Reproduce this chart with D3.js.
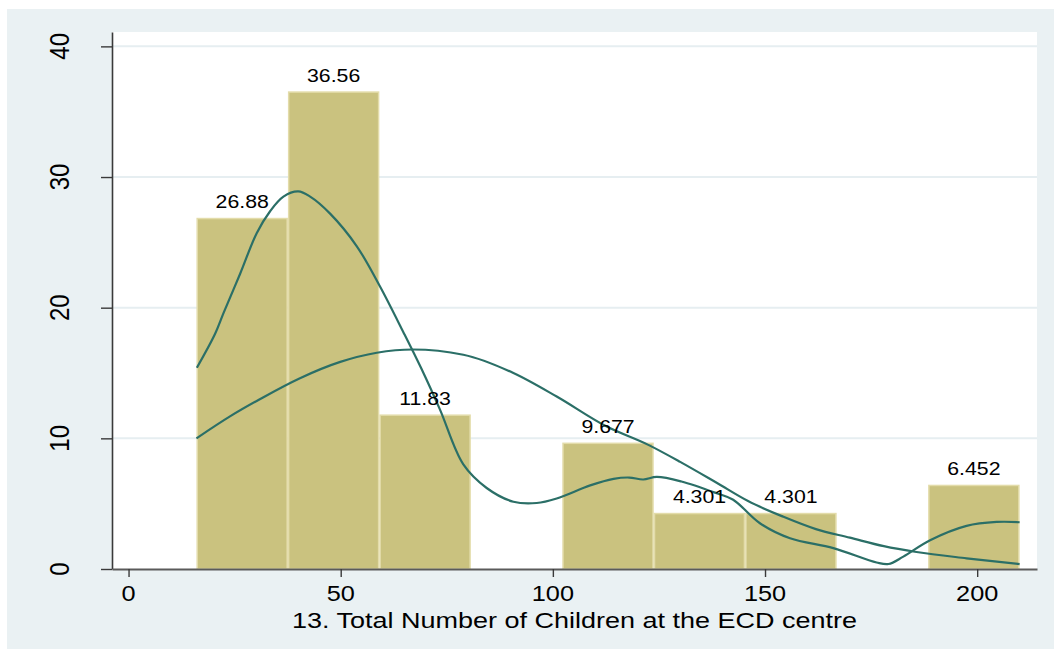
<!DOCTYPE html>
<html>
<head>
<meta charset="utf-8">
<script src="https://cdn.jsdelivr.net/npm/d3@7"></script>
<style>
  html, body { margin: 0; padding: 0; background: #ffffff; }
  svg { display: block; }
  text { font-family: "Liberation Sans", Arial, Helvetica, sans-serif; fill: #000; }
</style>
</head>
<body>
<svg id="chart" width="1054" height="650"></svg>
<script>
// Histogram bins (percent of centres) for the number of children per ECD centre
const binEdges = [16, 37.56, 59.11, 80.67, 102.22, 123.78, 145.33, 166.89, 188.44, 210];
const binPercents = [26.88, 36.56, 11.83, 0, 9.677, 4.301, 4.301, 0, 6.452];
const binLabels = ["26.88", "36.56", "11.83", "", "9.677", "4.301", "4.301", "", "6.452"];

// Kernel density estimate, scaled to percent
const kernelX = [16.1, 20.4, 22.4, 26.3, 30.2, 33.4, 36.5, 40.0, 42.8, 47.5, 53.8, 59.3, 64.8, 69.5,
  73.4, 78.9, 84.4, 90.7, 96.2, 100.9, 108.8, 114.3, 118.0, 121.3, 124.5, 130.3, 138.6, 142.5,
  148.8, 155.9, 166.1, 176.3, 179.1, 182.6, 188.9, 197.5, 204.6, 210.0];
const kernelY = [15.4, 18.0, 19.6, 22.6, 25.7, 27.4, 28.5, 28.9, 28.5, 27.2, 24.7, 21.6, 18.1, 15.0,
  12.2, 8.0, 6.2, 5.15, 5.05, 5.4, 6.4, 6.9, 7.0, 6.85, 7.05, 6.7, 5.8, 5.3,
  3.5, 2.35, 1.6, 0.5, 0.38, 0.95, 2.2, 3.3, 3.6, 3.58];

// Normal density overlay, scaled to percent
const normalX = [16, 24, 31.8, 40.4, 49.9, 58.5, 67, 78.9, 90.7, 100.9, 112.7, 122.5, 130,
  138.6, 146, 154.3, 162, 170, 178, 185.7, 197.5, 210];
const normalY = [10.0, 11.7, 13.15, 14.6, 15.85, 16.55, 16.8, 16.4, 15.0, 13.2, 10.9, 9.5, 8.2,
  6.6, 5.2, 4.0, 3.05, 2.4, 1.75, 1.3, 0.82, 0.38];

const xTicks = [0, 50, 100, 150, 200];
const yTicks = [0, 10, 20, 30, 40];
const xTitle = "13. Total Number of Children at the ECD centre";

const svg = d3.select("#chart");
const W = 1054, H = 650;
const plot = { left: 112, right: 1037, top: 32, bottom: 569 };
const stretch = 1.15;          // horizontal text stretch
const bg = "#eaf1f3";
const barFill = "#cac27f";
const barEdge = "#e3dcaa";
const lineCol = "#2b6f67";

// backgrounds
svg.append("rect").attr("x", 0).attr("y", 0).attr("width", W).attr("height", H).attr("fill", "#ffffff");
svg.append("rect").attr("x", 7).attr("y", 9).attr("width", W - 7).attr("height", 640).attr("fill", bg);
svg.append("rect").attr("x", plot.left).attr("y", plot.top)
  .attr("width", plot.right - plot.left).attr("height", plot.bottom - plot.top).attr("fill", "#ffffff");

const x = d3.scaleLinear().domain([-3.9, 214.1]).range([plot.left, plot.right]);
const y = d3.scaleLinear().domain([0, 41.1]).range([plot.bottom, plot.top]);

// horizontal grid
svg.append("g").selectAll("line").data(yTicks.filter(d => d > 0)).join("line")
  .attr("x1", plot.left).attr("x2", plot.right)
  .attr("y1", d => y(d)).attr("y2", d => y(d))
  .attr("stroke", "#e6eef1").attr("stroke-width", 2);

// bars
const bins = binPercents.map((p, i) => ({ x0: binEdges[i], x1: binEdges[i + 1], p, label: binLabels[i] }));
svg.append("g").selectAll("rect").data(bins.filter(b => b.p > 0)).join("rect")
  .attr("x", d => x(d.x0) + 0.75)
  .attr("width", d => x(d.x1) - x(d.x0) - 1.5)
  .attr("y", d => y(d.p) + 0.75)
  .attr("height", d => y(0) - y(d.p) - 0.75)
  .attr("fill", barFill)
  .attr("stroke", barEdge)
  .attr("stroke-width", 1.5);

// curves
const smoothLine = d3.line().x(d => x(d[0])).y(d => y(d[1])).curve(d3.curveMonotoneX);
const kernelLine = d3.line().x(d => x(d[0])).y(d => y(d[1])).curve(d3.curveCatmullRom.alpha(0.5));
svg.append("path")
  .datum(normalX.map((v, i) => [v, normalY[i]]))
  .attr("d", smoothLine).attr("fill", "none").attr("stroke", lineCol).attr("stroke-width", 2.2);
svg.append("path")
  .datum(kernelX.map((v, i) => [v, kernelY[i]]))
  .attr("d", kernelLine).attr("fill", "none").attr("stroke", lineCol).attr("stroke-width", 2.2);

// bar value labels
svg.append("g").selectAll("text").data(bins.filter(b => b.p > 0)).join("text")
  .attr("transform", d => `translate(${(x(d.x0) + x(d.x1)) / 2},${y(d.p) - 9.5}) scale(${stretch},1)`)
  .attr("text-anchor", "middle")
  .attr("font-size", "18.5px")
  .text(d => d.label);

// y axis
const yAxis = svg.append("g").attr("transform", `translate(${plot.left},0)`)
  .call(d3.axisLeft(y).tickValues(yTicks).tickSize(11).tickSizeOuter(0).tickFormat(""));
yAxis.select(".domain").attr("stroke", "#3a3a3a").attr("stroke-width", 1.6);
yAxis.selectAll(".tick line").attr("stroke", "#3a3a3a").attr("stroke-width", 1.4);

svg.append("g").selectAll("text").data(yTicks).join("text")
  .attr("transform", d => `translate(69,${y(d)}) scale(${stretch},1) rotate(-90)`)
  .attr("text-anchor", "middle")
  .attr("font-size", "24px")
  .text(d => d);

// x axis
const xAxis = svg.append("g").attr("transform", `translate(0,${plot.bottom})`)
  .call(d3.axisBottom(x).tickValues(xTicks).tickSize(8).tickSizeOuter(0).tickFormat(""));
xAxis.select(".domain").attr("stroke", "#5a5a5a").attr("stroke-width", 2);
xAxis.selectAll(".tick line").attr("stroke", "#3a3a3a").attr("stroke-width", 1.4);

svg.append("g").selectAll("text").data(xTicks).join("text")
  .attr("transform", d => `translate(${x(d)},601) scale(${stretch},1)`)
  .attr("text-anchor", "middle")
  .attr("font-size", "22px")
  .text(d => d);

// axis title
svg.append("text")
  .attr("transform", `translate(${(plot.left + plot.right) / 2},628) scale(1.2,1)`)
  .attr("text-anchor", "middle")
  .attr("font-size", "22.5px")
  .text(xTitle);
</script>
</body>
</html>
